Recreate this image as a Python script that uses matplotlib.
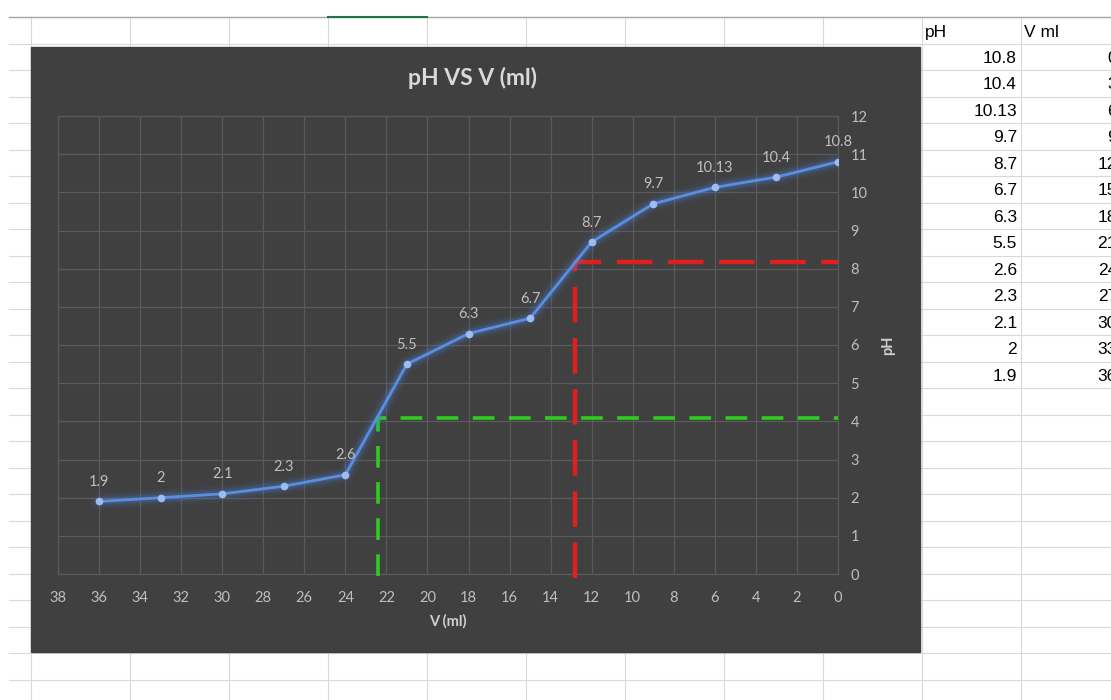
import matplotlib
matplotlib.use("Agg")
import matplotlib.pyplot as plt
from matplotlib.patches import Rectangle

# ---- data ----
volume_ml = [0, 3, 6, 9, 12, 15, 18, 21, 24, 27, 30, 33, 36]
ph_values = [10.8, 10.4, 10.13, 9.7, 8.7, 6.7, 6.3, 5.5, 2.6, 2.3, 2.1, 2, 1.9]
ph_labels = ["10.8", "10.4", "10.13", "9.7", "8.7", "6.7", "6.3", "5.5", "2.6", "2.3", "2.1", "2", "1.9"]
x_ticks = list(range(0, 40, 2))
y_ticks = list(range(0, 13))
# equivalence guide lines (V, pH)
red_guide = (12.8, 8.17)
green_guide = (22.4, 4.08)

W, H = 1111, 700
fig = plt.figure(figsize=(W / 100, H / 100), dpi=100, facecolor="white")

# ---- spreadsheet background ----
bg = fig.add_axes([0, 0, 1, 1])
bg.set_xlim(0, W)
bg.set_ylim(H, 0)
bg.axis("off")
grid_c = "#d9d9d9"
row_top = 17
row_h = 26.5
y = row_top
while y < H:
    bg.plot([9, W], [y, y], color=grid_c, lw=0.8, zorder=1)
    y += row_h
for x in [31, 130, 229, 328, 427, 526, 625, 724, 823, 922, 1021]:
    bg.plot([x, x], [row_top, H], color=grid_c, lw=0.8, zorder=1)
bg.plot([9, W], [row_top, row_top], color="#a6a6a6", lw=1.0, zorder=2)
bg.plot([328, 427], [row_top, row_top], color="#217346", lw=1.5, zorder=3)

# table text
tf = dict(family=["Liberation Sans", "DejaVu Sans"], fontsize=12.5, color="#000000")
bg.text(925, row_top + row_h / 2 + 2, "pH", ha="left", va="center", zorder=5, **tf)
bg.text(1024, row_top + row_h / 2 + 2, "V ml", ha="left", va="center", zorder=5, **tf)
for i, (lab, v) in enumerate(zip(ph_labels, volume_ml)):
    yc = row_top + row_h * (i + 1) + row_h / 2 + 1.5
    bg.text(1017, yc, lab, ha="right", va="center", zorder=5, **tf)
    bg.text(1117, yc, str(v), ha="right", va="center", zorder=5, clip_on=False, **tf)

# dark chart area
bg.add_patch(Rectangle((31, 47), 889, 605, facecolor="#404040", edgecolor="#404040", zorder=10))

# ---- chart ----
left, right, top, bottom = 58, 838, 116, 574
ax = fig.add_axes([left / W, (H - bottom) / H, (right - left) / W, (bottom - top) / H])
ax.set_facecolor("none")
ax.set_zorder(20)
ax.set_xlim(38, 0)
ax.set_ylim(0, 12)
ax.set_xticks(x_ticks)
ax.set_yticks(y_ticks)
ax.yaxis.tick_right()
ax.yaxis.set_label_position("right")
ax.grid(True, color="#5a5a5a", lw=0.9)
ax.set_axisbelow(True)
for s in ax.spines.values():
    s.set_color("#5a5a5a")
    s.set_linewidth(0.9)
ax.tick_params(axis="both", length=0, labelcolor="#bfbfbf", labelsize=10.5)
ax.tick_params(axis="x", pad=12)
ax.tick_params(axis="y", pad=9)
for t in ax.get_xticklabels() + ax.get_yticklabels():
    t.set_family(["Lato", "DejaVu Sans"])

# guide lines
rx, ry = red_guide
gx, gy = green_guide
ax.plot([rx, rx, 0], [-0.1, ry, ry], color="#e0201e", lw=3.2, dashes=(8, 3.5), clip_on=False, zorder=4)
ax.plot([gx, gx, 0], [-0.05, gy, gy], color="#2ecc1e", lw=2.6, dashes=(6, 4), clip_on=False, zorder=4)

# data line with glow
for w, a in [(12, 0.07), (8, 0.12), (5, 0.2)]:
    ax.plot(volume_ml, ph_values, color="#4a7fd6", lw=w, alpha=a, solid_capstyle="round", zorder=5)
ax.plot(volume_ml, ph_values, color="#5b8ee0", lw=2.0, zorder=6,
        marker="o", markersize=4.5, markerfacecolor="#9dbcf0", markeredgecolor="#9dbcf0")

for v, p, lab in zip(volume_ml, ph_values, ph_labels):
    ax.annotate(lab, (v, p), xytext=(0, 14), textcoords="offset points",
                ha="center", va="center", color="#bfbfbf", fontsize=10.5,
                family=["Lato", "DejaVu Sans"], zorder=7)

ax.set_xlabel("V (ml)", color="#d0d0d0", fontsize=10.5, fontweight="bold",
              family=["Lato", "DejaVu Sans"], labelpad=7)
ax.set_ylabel("pH", color="#d0d0d0", fontsize=10.5, fontweight="bold",
              family=["Lato", "DejaVu Sans"], rotation=90, labelpad=10)

fig.text(472 / W, 1 - 78 / H, "pH VS V (ml)", ha="center", va="center",
         color="#d9d9d9", fontsize=16.5, fontweight="bold", family=["Lato", "DejaVu Sans"], zorder=30)

fig.savefig("out.png", dpi=100, facecolor="white")
